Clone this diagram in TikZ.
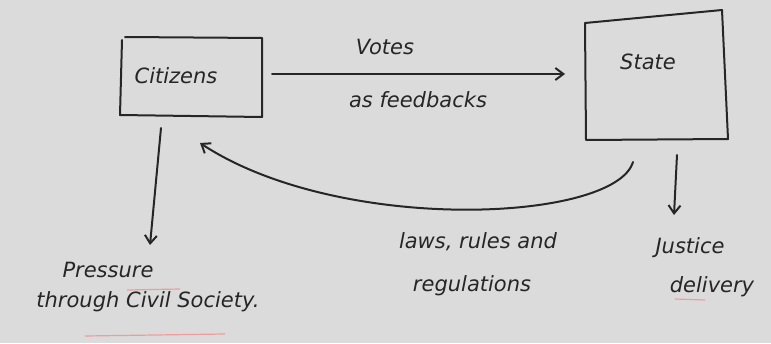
\documentclass[tikz,border=0pt]{standalone}
\usepackage{fontspec}
\setmainfont{DejaVu Sans}
\usetikzlibrary{arrows.meta}
\begin{document}
\begin{tikzpicture}[x=1pt,y=-1pt,
  ink/.style={draw=black!85,line width=2pt,line cap=round,line join=round},
  arr/.style={ink,-{Straight Barb[length=8pt,width=12pt]}},
  hand/.style={font=\fontsize{21}{25}\selectfont\itshape,text=black!85,align=center,inner sep=0pt},
  redmark/.style={draw=red!55,line width=1.2pt,opacity=0.6}]
\useasboundingbox[fill=black!14] (0,0) rectangle (771,343);
% boxes
\draw[ink] (122,40) -- (120,115) -- (262,117) -- (262,38) -- (125,37);
\node[hand] (cit) at (176,76) {Citizens};
\coordinate (citE) at (272,74);
\coordinate (citS) at (161,128);
\coordinate (citC) at (200,143);
\draw[ink] (585,23) -- (586,140) -- (728,139) -- (722,10) -- cycle;
\node[hand] (st) at (648,62) {State};
\coordinate (stW) at (565,74);
\coordinate (stB) at (633,162);
\coordinate (stS) at (677,155);
% votes
\draw[arr] (citE) -- (stW);
\node[hand] (votes) at (385,47) {Votes};
\node[hand] (fb) at (418,100) {as feedbacks};
% laws back to citizens
\draw[arr] (stB) .. controls (615,222) and (340,235) .. (citC);
\node[hand] (laws) at (478,242) {laws, rules and};
\node[hand] (reg) at (472,286) {regulations};
% downward arrows
\coordinate (pr) at (150,245);
\draw[arr] (citS) -- (pr);
\node[hand] (press) at (108,270) {Pressure};
\node[hand] (civ) at (148,302) {through Civil Society.};
\coordinate (ju) at (674,215);
\draw[arr] (stS) -- (ju);
\node[hand] (just) at (690,248) {Justice};
\node[hand] (del) at (712,287) {delivery};
% red underlines
\draw[redmark] (127,290) -- (180,289);
\draw[redmark] (85,336) -- (225,334);
\draw[redmark] (675,299) -- (705,300);
\end{tikzpicture}
\end{document}
